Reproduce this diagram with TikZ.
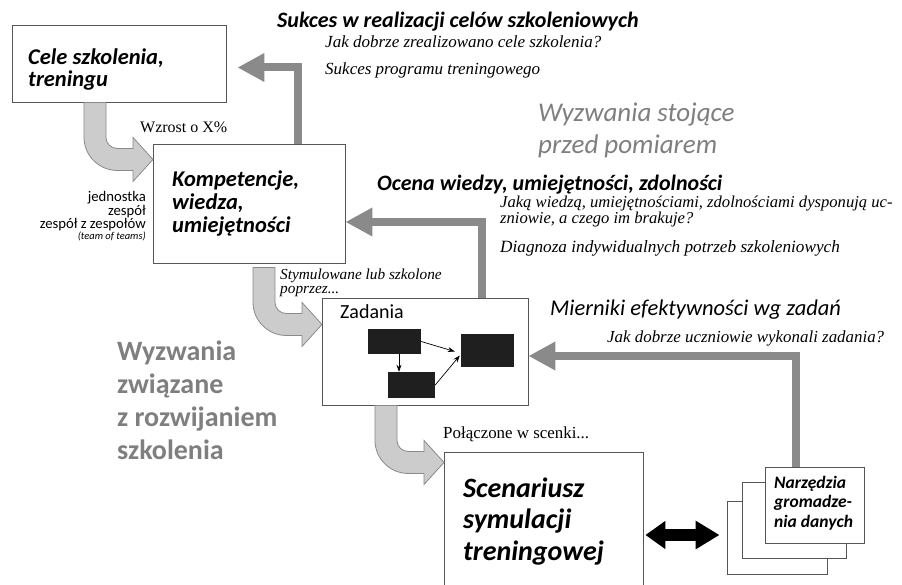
\documentclass[tikz,border=0pt]{standalone}
\usepackage{fontspec}
\setmainfont{Liberation Serif}
\setsansfont{Carlito}
\usepackage{tikz}
\usetikzlibrary{arrows.meta}

\definecolor{arrgray}{HTML}{8A8A8A}
\definecolor{lightarr}{HTML}{CCCCCC}
\definecolor{txtgray}{HTML}{7F7F7F}
\definecolor{boxline}{HTML}{555555}

\tikzset{
  box/.style={draw=boxline, fill=white, line width=0.9pt, inner sep=0pt},
  task/.style={fill=black!88, inner sep=0pt},
  txt/.style={anchor=base west, inner sep=0pt, align=left},
  head/.style={txt, font=\sffamily\bfseries\itshape\fontsize{22}{22}\selectfont},
  boxtext/.style 2 args={txt, font=\sffamily\bfseries\itshape\fontsize{#1}{#2}\selectfont},
  note/.style 2 args={txt, font=\itshape\fontsize{#1}{#2}\selectfont},
  plain/.style={txt, font=\fontsize{#1}{#1}\selectfont},
  sans/.style 2 args={txt, font=\sffamily\fontsize{#1}{#2}\selectfont},
  bigtitle/.style={txt, text=txtgray},
  grayarr/.style={draw=arrgray, line width=8pt, -{Triangle[length=27pt,width=27pt]}},
  taskarr/.style={line width=0.7pt, -{Stealth[length=7pt,width=5pt]}},
  bendarrow/.pic={
    \draw[draw=arrgray, fill=lightarr, line width=0.8pt]
      (-11,0) -- (-11,35) .. controls (-11,53) and (4,68) .. (22,68) -- (38,68)
      -- (38,79) -- (58,57) -- (38,35) -- (38,46) -- (22,46)
      .. controls (16,46) and (11,41) .. (11,35) -- (11,0) -- cycle;
  }
}

\begin{document}
\begin{tikzpicture}[x=1pt,y=-1pt]
  \useasboundingbox[fill=white] (0,0) rectangle (902,585);
  \clip (0,0) rectangle (902,585);

  \node[box, minimum width=214pt, minimum height=77pt] (cele) at (119,63.5) {};
  \node[box, minimum width=192pt, minimum height=119pt] (kompt) at (249,203.5) {};
  \node[box, minimum width=206pt, minimum height=107pt] (zad) at (425,351.5) {};
  \node[box, minimum width=199pt, minimum height=166pt] (scen) at (543.5,535) {};
  \node[box, minimum width=100pt, minimum height=73pt] (narz3) at (777,537.5) {};
  \node[box, minimum width=104pt, minimum height=76pt] (narz2) at (794,520) {};
  \node[box, minimum width=99pt, minimum height=76pt] (narz) at (814.5,505) {};

  \node[task, minimum width=53pt, minimum height=25pt] (t1) at (394.5,341.5) {};
  \node[task, minimum width=47pt, minimum height=26pt] (t2) at (411.5,385) {};
  \node[task, minimum width=53pt, minimum height=33pt] (t3) at (487.5,350.5) {};
  \draw[taskarr] (t1.east) -- ([xshift=-6pt,yshift=-1pt]t3.west);
  \draw[taskarr] (t1.south -| 399,0) -- (t2.north -| 399,0);
  \draw[taskarr] (t2.east) -- ([xshift=-1pt,yshift=-5pt]t3.west);

  \pic at (cele.south -| 95,0) {bendarrow};
  \pic at ([yshift=-4pt]kompt.south -| 264,0) {bendarrow};
  \pic at (zad.south -| 386,0) {bendarrow};

  \draw[grayarr] (kompt.north -| 298,0) |- ([shift={(11,4)}]cele.east);
  \draw[grayarr] (zad.north -| 482,0) |- ([shift={(0,18.5)}]kompt.east);
  \draw[grayarr] (narz.north -| 796,0) |- ([shift={(0,4.5)}]zad.east);

  \draw[line width=12pt, {Triangle[length=20pt,width=27pt]}-{Triangle[length=24pt,width=27pt]},
        shorten <=2pt, shorten >=7pt] (scen.east) -- (narz3.west |- scen.east);

  \node[boxtext={22.5}{22.5}] (celet) at (28,87) {Cele szkolenia,\\treningu};
  \node[boxtext={22.5}{23}] (kompet) at (172,233) {Kompetencje,\\wiedza,\\umiejętności};
  \node[sans={20}{20}] (zadt) at (340,319) {Zadania};
  \node[boxtext={28}{31.5}] (scent) at (463,560) {Scenariusz\\symulacji\\treningowej};
  \node[boxtext={17.5}{19.5}] (narzt) at (774,527) {Narzędzia\\gromadze-\\nia danych};

  \node[head] (sukces) at (277,28) {Sukces w realizacji celów szkoleniowych};
  \node[note={17}{27}] (sukcesq) at (325,75) {Jak dobrze zrealizowano cele szkolenia?\\Sukces programu treningowego};
  \node[bigtitle, font=\sffamily\itshape\fontsize{27}{32}\selectfont] (pomiar) at (538,154) {Wyzwania stojące\\przed pomiarem};
  \node[head] (ocena) at (377,191) {Ocena wiedzy, umiejętności, zdolności};
  \node[note={16.6}{14.5}] (ocenaq) at (500,224) {Jaką wiedzą, umiejętnościami, zdolnościami dysponują uc-\\zniowie, a czego im brakuje?};
  \node[note={17.2}{17}] (diagn) at (500,253) {Diagnoza indywidualnych potrzeb szkoleniowych};
  \node[plain=16] (wzrost) at (140,133) {Wzrost o X\%};
  \node[sans={14.7}{13.7}, anchor=base east, align=right] (jedn) at (146,229) {jednostka\\zespół\\zespół z zespołów};
  \node[txt, anchor=base east, font=\sffamily\itshape\fontsize{10.5}{10.5}\selectfont] (team) at (146,240) {(team of teams)};
  \node[note={15.3}{14}] (stym) at (280,294) {Stymulowane lub szkolone\\poprzez...};
  \node[txt, font=\sffamily\itshape\fontsize{22.5}{22.5}\selectfont] (mierniki) at (550,316) {Mierniki efektywności wg zadań};
  \node[note={16.9}{17}] (miernikiq) at (607,342) {Jak dobrze uczniowie wykonali zadania?};
  \node[plain=16.9] (scenki) at (443,438) {Połączone w scenki...};
  \node[bigtitle, font=\sffamily\bfseries\fontsize{28}{32.7}\selectfont] (rozw) at (117,459) {Wyzwania\\związane\\z rozwijaniem\\szkolenia};
\end{tikzpicture}
\end{document}
